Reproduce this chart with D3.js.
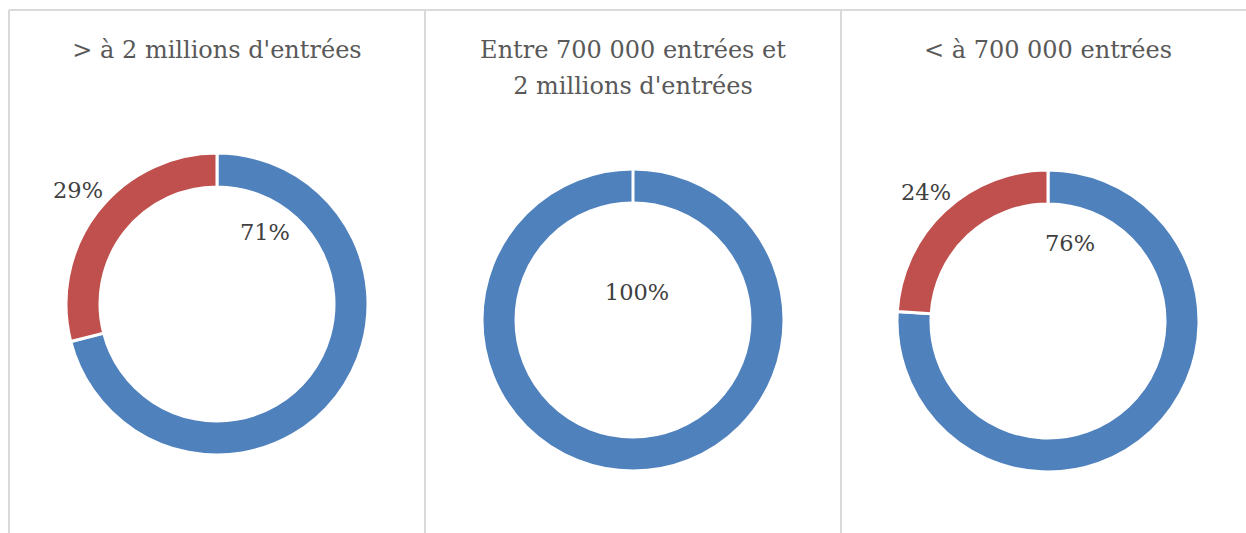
<!DOCTYPE html>
<html>
<head>
<meta charset="utf-8">
<script src="https://cdn.jsdelivr.net/npm/d3@7"></script>
<style>
  html, body { margin: 0; padding: 0; background: #ffffff; }
  svg { display: block; }
</style>
</head>
<body>
<svg id="chart" width="1246" height="533"></svg>
<script>
// Panel titles (one line per array entry)
const titles = [
  ["> à 2 millions d'entrées"],
  ["Entre 700 000 entrées et", "2 millions d'entrées"],
  ["< à 700 000 entrées"]
];
// Share of each category, per panel (percent)
const blueShare = [71, 100, 76];
const redShare  = [29, 0, 24];
const seriesColors = ["#4F81BD", "#C0504D"];

// Label placement (offset from donut centre, in px) for each slice
const labelOffsets = [
  [[48, -72], [-139, -114]],
  [[4, -28], null],
  [[22, -78], [-122, -129]]
];

const W = 1246, H = 533;
const svg = d3.select("#chart");
const FONT = "'DejaVu Serif', 'Liberation Serif', serif";

const centers = [[217, 304], [633, 320], [1048, 321]];
const outerR = 151, innerR = 117;

// panel frame
const frame = svg.append("g").attr("stroke", "#d9d9d9").attr("stroke-width", 2).attr("fill", "none");
frame.append("line").attr("x1", 9).attr("x2", W).attr("y1", 10).attr("y2", 10);
[9, 425, 841].forEach(x => {
  frame.append("line").attr("x1", x).attr("x2", x).attr("y1", 10).attr("y2", H);
});

const pie = d3.pie().sort(null).value(d => d);
const arc = d3.arc().innerRadius(innerR).outerRadius(outerR);

titles.forEach((lines, i) => {
  const [cx, cy] = centers[i];
  const t = svg.append("text")
    .attr("x", cx)
    .attr("text-anchor", "middle")
    .attr("font-family", FONT)
    .attr("font-size", 24)
    .attr("fill", "#595959");
  lines.forEach((ln, k) => {
    t.append("tspan").attr("x", cx).attr("y", 58 + k * 36).text(ln);
  });

  const values = [blueShare[i], redShare[i]];
  const g = svg.append("g").attr("transform", `translate(${cx},${cy})`);
  const arcs = pie(values).filter(d => d.data > 0);
  g.selectAll("path")
    .data(arcs)
    .join("path")
    .attr("d", arc)
    .attr("fill", (d) => seriesColors[d.index])
    .attr("stroke", "#ffffff")
    .attr("stroke-width", 3)
    .attr("stroke-linejoin", "miter");

  // seam at the start of a full ring
  if (arcs.length === 1) {
    g.append("line")
      .attr("x1", 0).attr("x2", 0)
      .attr("y1", -innerR - 1).attr("y2", -outerR - 1)
      .attr("stroke", "#ffffff").attr("stroke-width", 3);
  }

  arcs.forEach(d => {
    const off = labelOffsets[i][d.index];
    if (!off) return;
    g.append("text")
      .attr("x", off[0]).attr("y", off[1])
      .attr("text-anchor", "middle")
      .attr("dominant-baseline", "central")
      .attr("font-family", FONT)
      .attr("font-size", 22.5)
      .attr("fill", "#404040")
      .text(d.data + "%");
  });
});
</script>
</body>
</html>
